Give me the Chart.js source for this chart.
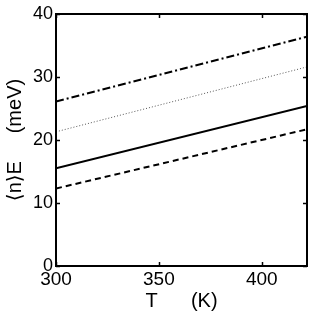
<!DOCTYPE html>
<html>
<head>
<meta charset="utf-8">
<script src="https://cdn.jsdelivr.net/npm/chart.js@4/dist/chart.umd.min.js"></script>
<style>
html,body{margin:0;padding:0;background:#fff;}
canvas{display:block;}
</style>
</head>
<body>
<canvas id="c" width="311" height="313"></canvas>
<script>
const temperatures = [300, 422];
const dashDotSeries = [26.1, 36.4];
const dottedSeries = [21.3, 31.6];
const solidSeries = [15.5, 25.4];
const dashedSeries = [12.3, 21.7];
const xTicks = [300, 350, 400];
const yTicks = [0, 10, 20, 30, 40];
const xTitle = "T      (K)";
const yTitle = "\u27E8n\u27E9E     (meV)";

function pts(ys){ return temperatures.map((x,i)=>({x:x,y:ys[i]})); }

const frame = {
  id:'frame',
  afterDatasetsDraw(chart){
    const {ctx, chartArea:a, scales} = chart;
    ctx.save();
    ctx.strokeStyle='#000';
    ctx.lineWidth=1.5;
    const tl=4;
    ctx.beginPath();
    xTicks.forEach(v=>{
      const p=Math.round(scales.x.getPixelForValue(v))+0.5;
      ctx.moveTo(p,a.bottom); ctx.lineTo(p,a.bottom-tl);
      ctx.moveTo(p,a.top); ctx.lineTo(p,a.top+tl);
    });
    yTicks.forEach(v=>{
      const p=Math.round(scales.y.getPixelForValue(v))+0.5;
      ctx.moveTo(a.left,p); ctx.lineTo(a.left+tl,p);
      ctx.moveTo(a.right,p); ctx.lineTo(a.right-tl,p);
    });
    ctx.stroke();
    ctx.lineWidth=2;
    ctx.strokeRect(a.left,a.top,a.right-a.left,a.bottom-a.top);
    ctx.restore();
  }
};

const FAM = '"Liberation Sans", "DejaVu Sans", sans-serif';

new Chart(document.getElementById('c'), {
  type:'line',
  data:{
    datasets:[
      {data:pts(dashDotSeries), borderColor:'#000', borderWidth:2, borderDash:[8,3,2,3], pointRadius:0, fill:false},
      {data:pts(dottedSeries), borderColor:'#555', borderWidth:1, borderDash:[1,2], pointRadius:0, fill:false},
      {data:pts(solidSeries), borderColor:'#000', borderWidth:2, pointRadius:0, fill:false},
      {data:pts(dashedSeries), borderColor:'#000', borderWidth:2, borderDash:[6,4], pointRadius:0, fill:false}
    ]
  },
  options:{
    responsive:false,
    animation:false,
    layout:{padding:{top:14,right:4,left:0,bottom:0}},
    plugins:{legend:{display:false},tooltip:{enabled:false}},
    scales:{
      x:{
        type:'linear', min:300, max:422,
        afterBuildTicks(s){ s.ticks = xTicks.map(v=>({value:v})); },
        afterFit(s){ s.height = 47; },
        grid:{display:false, drawTicks:false}, border:{display:false},
        ticks:{color:'#000', font:{family:FAM, size:19}, padding:2, maxRotation:0},
        title:{display:true, text:xTitle, color:'#000', font:{family:FAM, size:20}, padding:{top:0,bottom:0}}
      },
      y:{
        type:'linear', min:0, max:40,
        afterBuildTicks(s){ s.ticks = yTicks.map(v=>({value:v})); },
        afterFit(s){ s.width = 56; },
        grid:{display:false, drawTicks:false}, border:{display:false},
        ticks:{color:'#000', font:{family:FAM, size:18}, padding:3},
        title:{display:true, text:yTitle, color:'#000', font:{family:FAM, size:20}, padding:{top:3,bottom:0}}
      }
    }
  },
  plugins:[frame]
});
</script>
</body>
</html>
